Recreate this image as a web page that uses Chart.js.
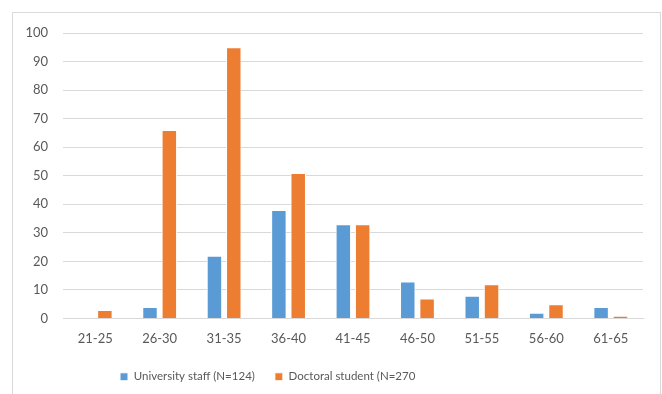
<!DOCTYPE html>
<html>
<head>
<meta charset="utf-8">
<script src="https://cdn.jsdelivr.net/npm/chart.js@4.4.1/dist/chart.umd.min.js"></script>
<style>
  html, body { margin: 0; padding: 0; background: #ffffff; }
  #wrap { width: 662px; height: 394px; position: relative; }
</style>
</head>
<body>
<div id="wrap"><canvas id="c" width="662" height="394"></canvas></div>
<script>
// Age groups on the x axis
const ageGroups = ['21-25', '26-30', '31-35', '36-40', '41-45', '46-50', '51-55', '56-60', '61-65'];
// Counts per age group
const staffCounts = [0, 4, 22, 38, 33, 13, 8, 2, 4];
const doctoralCounts = [3, 66, 95, 51, 33, 7, 12, 5, 1];
// Series names
const seriesNames = ['University staff (N=124)', 'Doctoral student (N=270'];
// Y axis range
const yMin = 0, yMax = 100, yStep = 10;

const FONT = 'Lato, "Liberation Sans", sans-serif';
const TEXT = '#595959';
const GRID = '#d9d9d9';

// White background and thin outer frame
const framePlugin = {
  id: 'frame',
  beforeDraw(chart) {
    const ctx = chart.ctx;
    ctx.save();
    ctx.fillStyle = '#ffffff';
    ctx.fillRect(0, 0, chart.width, chart.height);
    ctx.strokeStyle = '#d9d9d9';
    ctx.lineWidth = 1;
    ctx.strokeRect(12.5, 12.5, 648, 400);
    ctx.restore();
  }
};

// Place the legend row below the axis labels
const legendPlacement = {
  id: 'legendPlacement',
  afterLayout(chart) {
    const lg = chart.legend;
    if (!lg) return;
    const h = lg.height;
    lg.left = 100;
    lg.right = 640;
    lg.top = 351;
    lg.bottom = 351 + h;
  }
};

new Chart(document.getElementById('c'), {
  type: 'bar',
  data: {
    labels: ageGroups,
    datasets: [
      {
        label: seriesNames[0],
        data: staffCounts,
        backgroundColor: '#5b9bd5',
        borderColor: '#ffffff',
        borderWidth: 1
      },
      {
        label: seriesNames[1],
        data: doctoralCounts,
        backgroundColor: '#ed7d31',
        borderColor: '#ffffff',
        borderWidth: 1
      }
    ]
  },
  options: {
    responsive: false,
    animation: false,
    devicePixelRatio: 1,
    categoryPercentage: 0.6,
    barPercentage: 0.8,
    layout: { padding: { left: 0, right: 19, top: 33, bottom: 0 } },
    plugins: {
      legend: {
        position: 'bottom',
        align: 'start',
        labels: {
          boxWidth: 8,
          boxHeight: 8,
          padding: 20,
          color: TEXT,
          font: { family: FONT, size: 11.5 }
        }
      },
      tooltip: { enabled: false }
    },
    scales: {
      x: {
        grid: { display: false, drawTicks: false },
        border: { display: true, color: GRID, width: 1 },
        ticks: { color: TEXT, padding: 13, font: { family: FONT, size: 13 }, maxRotation: 0 },
        afterFit(scale) { scale.height = 34; }
      },
      y: {
        min: yMin,
        max: yMax,
        grid: { color: GRID, drawTicks: false, lineWidth: 1 },
        border: { display: false },
        ticks: { stepSize: yStep, color: TEXT, padding: 15, font: { family: FONT, size: 13 } },
        afterFit(scale) { scale.width = 63; }
      }
    }
  },
  plugins: [framePlugin, legendPlacement]
});
</script>
</body>
</html>
